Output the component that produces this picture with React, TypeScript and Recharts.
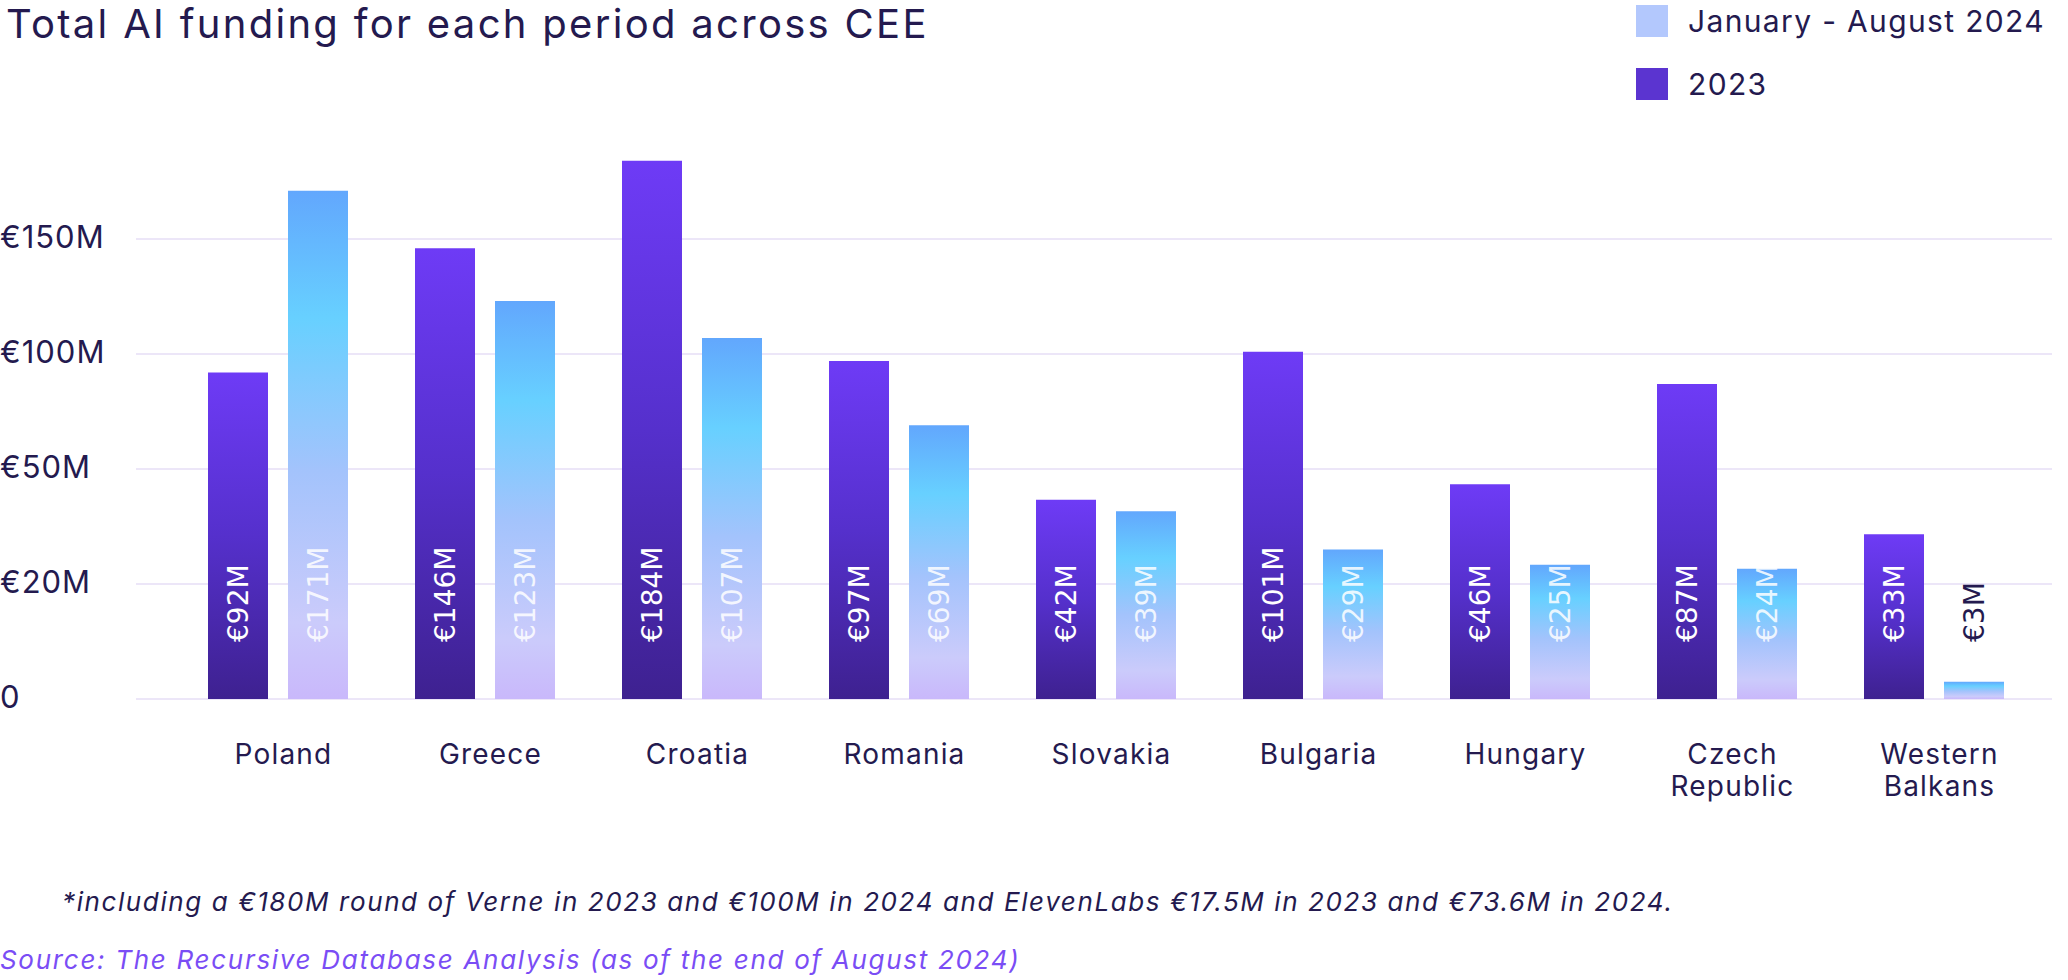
import React from "react";
import { BarChart, Bar, XAxis, YAxis, CartesianGrid, LabelList } from "recharts";

const categories = ["Poland", "Greece", "Croatia", "Romania", "Slovakia", "Bulgaria", "Hungary", "Czech Republic", "Western Balkans"];
const values2023 = [92, 146, 184, 97, 42, 101, 46, 87, 33];
const values2024 = [171, 123, 107, 69, 39, 29, 25, 24, 3];
const tickValues = [0, 20, 50, 100, 150];
const tickLabels = ["0", "€20M", "€50M", "€100M", "€150M"];
const legendItems = [
  { label: "January - August 2024", color: "#B3C8FD" },
  { label: "2023", color: "#5B34D0" },
];

const FONT = 'Inter, "Open Sans", sans-serif';
const LABEL_FONT = '"DejaVu Sans", Inter, sans-serif';
const TEXT = "#241A4F";
const Y_MAX = 5;

// piecewise axis: ticks evenly spaced (0, 20, 50, 100, 150)
const toPos = (v: number) => {
  for (let i = 1; i < tickValues.length; i++) {
    if (v <= tickValues[i]) {
      return i - 1 + (v - tickValues[i - 1]) / (tickValues[i] - tickValues[i - 1]);
    }
  }
  const n = tickValues.length - 1;
  return n + (v - tickValues[n]) / (tickValues[n] - tickValues[n - 1]);
};

const data = categories.map((c, i) => ({ name: c, v2023: values2023[i], v2024: values2024[i] }));

const YTick = (props: any) => {
  const { y, payload } = props;
  const idx = tickValues.findIndex((t) => Math.abs(toPos(t) - payload.value) < 1e-6);
  return (
    <text x={0} y={y - 3} dominantBaseline="central" textAnchor="start" fill={TEXT} fontSize={31} letterSpacing={1} fontFamily={FONT}>
      {tickLabels[idx]}
    </text>
  );
};

const XTick = (props: any) => {
  const { x, payload } = props;
  const parts = String(payload.value).split(" ");
  return (
    <g>
      {parts.map((p: string, i: number) => (
        <text key={i} x={x + 6} y={754 + i * 32} textAnchor="middle" dominantBaseline="central" fill={TEXT} fontSize={28} letterSpacing={1.2} fontFamily={FONT}>
          {p}
        </text>
      ))}
    </g>
  );
};

const makeBarLabel = (opacity: number) => (props: any) => {
  const { x, y, width, height, value } = props;
  const cx = x + width / 2;
  const bottom = y + height;
  const ty = bottom - 57;
  const inside = height > 60;
  return (
    <text
      x={cx}
      y={ty}
      transform={`rotate(-90 ${cx} ${ty})`}
      textAnchor="start"
      dominantBaseline="central"
      fill={inside ? "#FFFFFF" : TEXT}
      fillOpacity={inside ? opacity : 1}
      fontSize={28}
      fontFamily={LABEL_FONT}
    >
      {`€${value}M`}
    </text>
  );
};

const gridGenerator = ({ offset }: any) =>
  tickValues.map((t) => offset.top + offset.height * (1 - toPos(t) / Y_MAX));

export default function App() {
  return (
    <div style={{ position: "absolute", left: 0, top: 0, width: 2068, height: 980, background: "#fff", overflow: "hidden" }}>
      <div style={{ position: "absolute", left: 6, top: 0, lineHeight: "48px", fontFamily: FONT, fontSize: 40, letterSpacing: 2.3, color: TEXT, whiteSpace: "nowrap" }}>
        Total AI funding for each period across CEE
      </div>
      <div style={{ position: "absolute", left: 1636, top: 5, fontFamily: FONT, color: TEXT }}>
        {legendItems.map((it, i) => (
          <div key={i} style={{ display: "flex", alignItems: "center", height: 32, marginBottom: 31 }}>
            <div style={{ width: 32, height: 32, background: it.color, marginRight: 20 }} />
            <span style={{ fontSize: 30, letterSpacing: 1.35, whiteSpace: "nowrap" }}>{it.label}</span>
          </div>
        ))}
      </div>
      <BarChart
        width={2068}
        height={980}
        data={data}
        margin={{ top: 124, right: 16, bottom: 181, left: 0 }}
        barSize={60}
        barGap={20}
        style={{ position: "absolute", left: 0, top: 0 }}
      >
        <defs>
          <linearGradient id="g2023" x1="0" y1="0" x2="0" y2="1">
            <stop offset="0%" stopColor="#6E3BF6" />
            <stop offset="50%" stopColor="#5530CC" />
            <stop offset="100%" stopColor="#3E2190" />
          </linearGradient>
          <linearGradient id="g2024" x1="0" y1="0" x2="0" y2="1">
            <stop offset="0%" stopColor="#62A7FD" />
            <stop offset="25%" stopColor="#67D0FF" />
            <stop offset="55%" stopColor="#A3C3FC" />
            <stop offset="85%" stopColor="#CBCBFB" />
            <stop offset="100%" stopColor="#C9B8FB" />
          </linearGradient>
        </defs>
        <CartesianGrid
          horizontal
          vertical={false}
          stroke="#ECE6F8"
          strokeWidth={2}
          horizontalCoordinatesGenerator={gridGenerator}
        />
        <XAxis
          dataKey="name"
          axisLine={false}
          tickLine={false}
          height={100}
          interval={0}
          padding={{ left: 38, right: 15 }}
          tick={<XTick />}
        />
        <YAxis
          type="number"
          domain={[0, Y_MAX]}
          ticks={tickValues.map(toPos)}
          width={136}
          axisLine={false}
          tickLine={false}
          tick={<YTick />}
        />
        <Bar dataKey={(d: any) => toPos(d.v2023)} name="2023" fill="url(#g2023)" isAnimationActive={false}>
          <LabelList dataKey="v2023" content={makeBarLabel(1)} />
        </Bar>
        <Bar dataKey={(d: any) => toPos(d.v2024)} name="January - August 2024" fill="url(#g2024)" isAnimationActive={false}>
          <LabelList dataKey="v2024" content={makeBarLabel(0.85)} />
        </Bar>
      </BarChart>
      <div style={{ position: "absolute", left: 62, top: 886, fontFamily: FONT, fontStyle: "italic", fontSize: 26, letterSpacing: 1.6, color: TEXT, whiteSpace: "nowrap" }}>
        *including a €180M round of Verne in 2023 and €100M in 2024 and ElevenLabs €17.5M in 2023 and €73.6M in 2024.
      </div>
      <div style={{ position: "absolute", left: 0, top: 944, fontFamily: FONT, fontStyle: "italic", fontSize: 26, letterSpacing: 1.7, color: "#7A4DF5", whiteSpace: "nowrap" }}>
        Source: The Recursive Database Analysis (as of the end of August 2024)
      </div>
    </div>
  );
}
